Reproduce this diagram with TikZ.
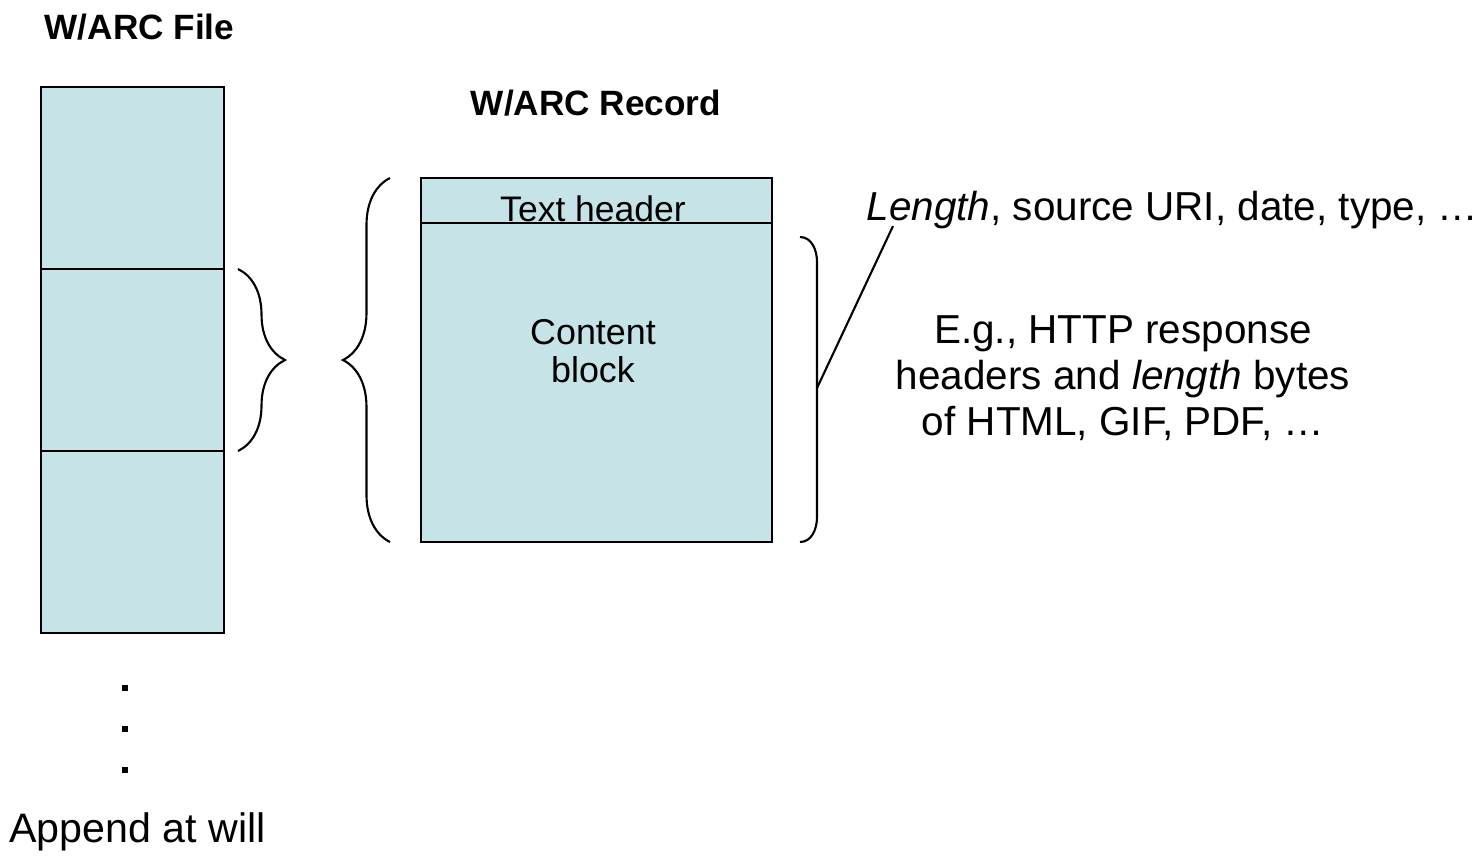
\documentclass[tikz,border=0pt]{standalone}
\usepackage{fontspec}
\setmainfont{Liberation Sans}
\usetikzlibrary{decorations.pathreplacing}
\definecolor{cellblue}{RGB}{198,228,232}

\tikzset{
  cell/.style={draw=black,semithick,fill=cellblue,inner sep=0pt},
  title/.style={font=\bfseries\fontsize{10}{12}\selectfont},
  lbl/.style={font=\fontsize{11.5}{13}\selectfont,align=center,inner sep=0pt},
  curly/.style={decorate,semithick,decoration={brace,amplitude=0.47cm}}
}

\begin{document}
\begin{tikzpicture}[x=0.01cm,y=-0.01cm]
\useasboundingbox (0,0) rectangle (1483,857);

\node[title] (filetitle) at (139.5,27) {W/ARC File};
\node[title] (rectitle) at (596,103) {W/ARC Record};

\begin{scope}[every node/.style={cell,minimum width=1.83cm,minimum height=1.82cm}]
    \node (F1) at (132.5,178) {};
    \node (F2) at (132.5,360) {};
    \node (F3) at (132.5,542) {};
\end{scope}

\node[cell,minimum width=3.51cm,minimum height=0.45cm] (head) at (596.5,200.5) {};
\node[cell,minimum width=3.51cm,minimum height=3.19cm] (body) at (596.5,382.5) {};
\node[lbl,font=\fontsize{10.1}{12}\selectfont] (headtxt) at (593,209) {Text header};
\node[lbl,font=\fontsize{10.2}{11}\selectfont] (bodytxt) at (593,351) {Content\\block};

% braces
\draw[curly] (238,269) -- (238,451);
\draw[curly] (390,542) -- (390,178);
\draw[semithick] (800,237) to[out=0,in=90] (817,262) -- (817,517) to[out=-90,in=0] (800,542);

\node[lbl,anchor=west] (lentxt) at (866,210) {\textit{Length}, source URI, date, type, …};
\coordinate (recmid) at (817,388);
\coordinate (lenfoot) at (893,226);
\draw[semithick] (recmid) -- (lenfoot);

\node[lbl] (egtxt) at (1123,378) {E.g., HTTP response\\headers and \textit{length} bytes\\of HTML, GIF, PDF, …};

\foreach \y in {688,729,770}
    \fill (122,\y-3) rectangle (128,\y+3);

\node[lbl,font=\fontsize{11.7}{14}\selectfont] (append) at (137.5,832) {Append at will};
\end{tikzpicture}
\end{document}
